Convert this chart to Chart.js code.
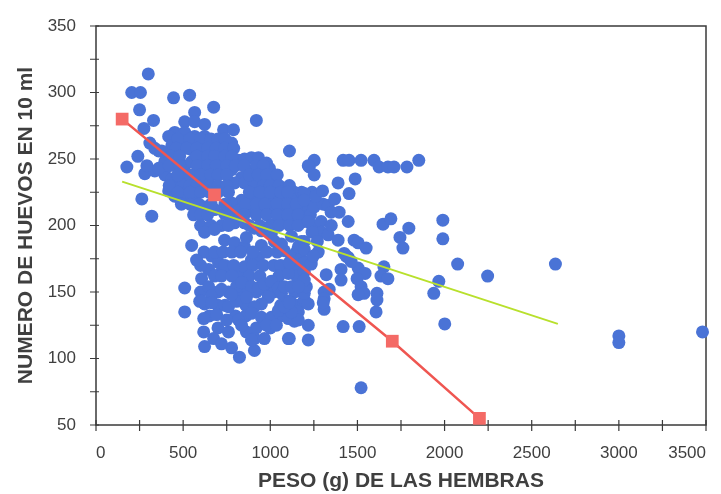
<!DOCTYPE html>
<html>
<head>
<meta charset="utf-8">
<script src="https://cdn.jsdelivr.net/npm/chart.js@4/dist/chart.umd.min.js"></script>
<style>
  body { margin: 0; background: #fff; }
  canvas { display: block; }
</style>
</head>
<body>
<canvas id="grafico" width="721" height="494"></canvas>
<script>
// peso de la hembra (g), numero de huevos en 10 ml
const puntos = [
  [300,314],[205,300],[255,300],[445,296],[537,298],[250,287],[566,285],[675,289],[330,279],[920,279],
  [275,273],[240,252],[177,244],[280,239],[263,220],[320,207],[417,226],
  [509,278],[566,278],[623,276],[732,272],[789,272],[778,262],[452,270],[509,270],[566,267],[623,267],
  [417,267],[435,260],[492,260],[549,257],[606,257],[663,255],[703,249],[360,256],[395,248],[452,245],
  [509,245],[549,248],[606,250],[509,237],[566,235],[623,232],[337,241],[395,238],[435,233],[492,230],
  [452,222],[509,222],[566,220],[623,214],[680,212],[738,209],[795,206],[720,244],[778,242],[818,249],
  [852,250],[892,251],[932,251],[978,247],[995,243],[949,241],[892,241],[835,236],[795,232],[852,232],
  [909,231],[966,233],[1024,233],[1081,228],[1138,225],[1178,220],[1121,220],[1064,218],[1006,221],
  [949,221],[892,221],[835,219],[778,217],[818,211],[892,211],[949,211],[1006,213],[1064,211],[1121,210],
  [1178,210],[1218,215],[795,202],[852,202],[909,198],[966,198],[1024,201],[1081,203],[1138,203],[1195,203],
  [337,258],[292,245],[360,243],[423,252],[435,235],[377,256],[309,262],
  [470,265],[540,265],[600,265],[660,265],[700,265],[740,265],
  [460,258],[520,258],[580,258],[640,258],[690,258],[740,258],[790,258],
  [430,252],[480,252],[580,252],[640,252],[680,252],[740,252],[780,252],
  [420,245],[480,245],[580,245],[640,245],[690,245],[750,245],[800,245],[850,245],[920,245],[960,245],
  [470,238],[540,238],[600,238],[660,238],[700,238],[750,238],[880,238],[930,238],[980,238],[1040,238],
  [420,230],[540,230],[580,230],[660,230],[700,230],[750,230],[960,230],[1000,230],[1050,230],[1110,230],
  [470,225],[540,225],[600,225],[650,225],[700,225],[760,225],[880,225],[940,225],[1000,225],[1060,225],
  [1100,225],[1180,225],[1240,225],
  [490,216],[540,216],[590,216],[660,216],[740,216],[860,216],[920,216],[970,216],[1040,216],[1100,216],
  [1150,216],[1260,216],
  [560,208],[600,208],[640,208],[760,208],[850,208],[920,208],[980,208],[1040,208],[1100,208],[1160,208],
  [1230,208],
  [600,200],[660,200],[720,200],[760,200],[880,200],[940,200],[1000,200],[1050,200],[1110,200],[1160,200],
  [1240,200],
  [623,195],[680,197],[738,189],[795,187],[852,184],[892,174],[932,176],[949,185],[1024,188],[1081,181],
  [1121,175],[663,177],[703,172],[646,167],[760,167],[818,164],[703,163],[852,169],
  [620,180],[680,180],[730,180],[780,180],[830,180],[900,180],[980,180],[1040,180],[1150,180],
  [600,170],[740,170],[790,170],[900,170],[960,170],[1020,170],[1060,170],[1140,170],
  [680,162],[720,162],[780,162],[880,162],[940,162],[1050,162],[1150,162],
  [600,150],[700,150],[760,150],[840,150],[920,150],[980,150],[1020,150],[1140,150],
  [700,140],[740,140],[860,140],[1060,140],[1160,140],
  [650,132],[800,132],[860,132],[1060,132],
  [700,123],[920,123],[1000,123],
  [606,160],[646,154],[663,147],[595,143],[623,141],[760,139],[806,143],[806,154],[835,157],[892,154],
  [932,153],[966,156],[1006,158],[1046,153],[989,146],[949,141],[909,139],[892,134],[949,131],[1006,131],
  [1046,136],[1121,142],[1104,130],[1138,128],[1161,135],[1195,153],[1195,165],
  [549,185],[577,174],[509,153],[509,135],[606,143],[663,142],[618,130],[618,120],[623,109],[675,115],
  [760,120],[818,129],[863,120],[778,108],[823,101],[909,115],[966,115],[909,106],[1104,115],[720,111],
  [892,114],[720,152],[778,148],[863,146],[1064,149],[1104,143],[692,133],[750,129],[835,125],[978,125],
  [1035,125],[949,196],[1006,194],[1121,192],[1178,188],[863,191],[1064,186],[1178,175],[1161,184],
  [1195,224],[1195,219],[1252,214],[1304,216],[1332,215],[1349,210],[1395,210],[1292,203],[1218,203],
  [1447,203],[1292,195],[1332,193],[1389,189],[1481,189],[1504,187],[1550,183],[1195,188],[1195,182],
  [1235,174],[1275,180],[1424,179],[1447,176],
  [1260,222],[1240,195],[1270,188],[1350,200],[1370,220],[1300,226],
  [1252,249],[1224,244],[1252,238],[1389,232],[1487,235],[1452,224],
  [1418,249],[1452,249],[1521,249],[1595,249],[1624,244],[1675,244],[1710,244],[1784,244],[1852,249],
  [1647,201],[1692,205],[1795,198],[1744,191],[1761,183],[1990,204],[1990,190],[2075,171],[1967,158],
  [1938,149],[2001,126],[1521,78],[1418,124],[1510,124],[1607,135],[1612,149],[1612,144],[1652,169],
  [1504,168],[1544,164],[1498,160],[1521,154],[1538,149],[1504,148],[1635,162],[1675,160],[1406,167],
  [1406,159],[1309,150],[1338,152],[1309,145],[1309,137],[1304,142],
  [1109,115],[1218,114],[1218,125],[1161,129],[1121,135],[1081,139],[1109,142],[1195,144],[1218,141],
  [1195,149],[1207,154],[1195,159],[1195,172],[1235,171],[1247,177],[1104,164],[1109,172],[1081,154],
  [1121,154],[1161,154],[1435,177],[1464,173],[1321,163],[1110,256],[1218,245],
  [2247,162],[2636,171],[3000,117],[3000,112],[3480,120]
];

const rojaX = [150, 680, 1700, 2200];
const rojaY = [280, 223, 113, 55];

const verdeX = [150, 2650];
const verdeY = [233, 126];

const fuente = 'Liberation Sans, Arial, sans-serif';
const colorTexto = '#3f3f3f';

const marco = {
  id: 'marco',
  beforeDatasetsDraw(chart) {
    const { ctx, chartArea: a, scales: { x, y } } = chart;
    ctx.save();
    ctx.strokeStyle = '#3a3a3a';
    ctx.lineWidth = 1.5;
    ctx.strokeRect(a.left, a.top, a.right - a.left, a.bottom - a.top);
    ctx.lineWidth = 1.2;
    ctx.beginPath();
    x.ticks.forEach(t => {
      const px = x.getPixelForValue(t.value);
      ctx.moveTo(px, a.bottom - 5);
      ctx.lineTo(px, a.bottom + 6);
    });
    y.ticks.forEach(t => {
      const py = y.getPixelForValue(t.value);
      ctx.moveTo(a.left - 6, py);
      ctx.lineTo(a.left + 3, py);
    });
    ctx.stroke();
    ctx.restore();
  }
};

new Chart(document.getElementById('grafico'), {
  type: 'scatter',
  data: {
    datasets: [
      {
        data: rojaX.map((x, i) => ({ x, y: rojaY[i] })),
        showLine: true,
        borderColor: '#ef5651',
        borderWidth: 2.5,
        pointStyle: 'rect',
        pointRadius: 9,
        pointBackgroundColor: '#f46a66',
        pointBorderWidth: 0,
        clip: false
      },
      {
        data: verdeX.map((x, i) => ({ x, y: verdeY[i] })),
        showLine: true,
        borderColor: '#b8e02c',
        borderWidth: 2,
        pointRadius: 0
      },
      {
        data: puntos.map(p => ({ x: p[0], y: p[1] })),
        backgroundColor: '#4a73d6',
        borderWidth: 0,
        pointRadius: 6.5,
        clip: false
      }
    ]
  },
  options: {
    responsive: false,
    devicePixelRatio: 1,
    animation: false,
    layout: { padding: { left: 14, right: 15, top: 26, bottom: 0 } },
    plugins: {
      legend: { display: false },
      tooltip: { enabled: false }
    },
    scales: {
      x: {
        type: 'linear',
        min: 0,
        max: 3500,
        grid: { display: false },
        border: { display: false },
        ticks: {
          stepSize: 250,
          autoSkip: false,
          maxRotation: 0,
          align: 'inner',
          padding: 10,
          color: colorTexto,
          font: { family: fuente, size: 17 },
          callback: v => (v % 500 === 0 ? v : '')
        },
        title: {
          display: true,
          text: 'PESO (g) DE LAS HEMBRAS',
          color: colorTexto,
          font: { family: fuente, size: 21, weight: 'bold' },
          padding: { top: 0, bottom: 0 }
        },
        afterFit: s => {
          s.height = 69;
          s.paddingLeft = 0;
          s.paddingRight = 0;
        }
      },
      y: {
        min: 50,
        max: 350,
        grid: { display: false },
        border: { display: false },
        ticks: {
          stepSize: 25,
          autoSkip: false,
          padding: 12,
          color: colorTexto,
          font: { family: fuente, size: 17 },
          callback: v => (v % 50 === 0 ? v : '')
        },
        title: {
          display: true,
          text: 'NUMERO DE HUEVOS EN 10 ml',
          color: colorTexto,
          font: { family: fuente, size: 21, weight: 'bold' },
          padding: { top: 0, bottom: 0 }
        },
        afterFit: s => {
          s.width = 82;
          s.paddingTop = 0;
          s.paddingBottom = 0;
        }
      }
    }
  },
  plugins: [marco]
});
</script>
</body>
</html>
